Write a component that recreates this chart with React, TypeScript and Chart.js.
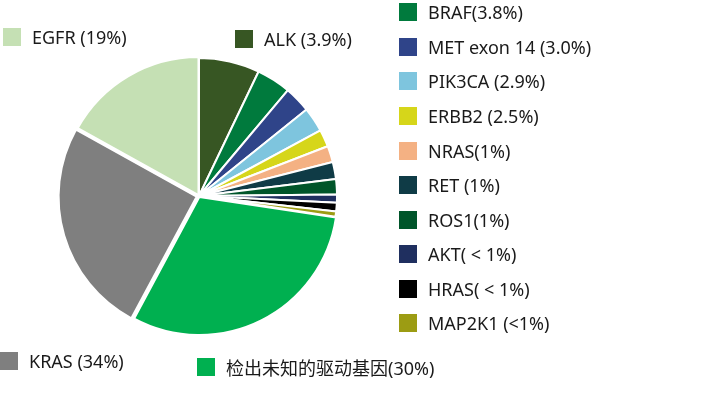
import React, { useEffect, useRef } from "react";
import { Chart, registerables } from "chart.js";

Chart.register(...registerables);

// Slice order (clockwise from 12 o'clock)
const categories = [
  "ALK", "BRAF", "MET exon 14", "PIK3CA", "ERBB2", "NRAS", "RET", "ROS1",
  "AKT", "HRAS", "MAP2K1", "检出未知的驱动基因", "KRAS", "EGFR",
];
// Slice sizes as drawn (percent of circle)
const sliceValues = [7.1, 4.0, 3.1, 2.9, 2.0, 1.9, 2.0, 1.8, 0.95, 1.0, 0.6, 30.4, 25.2, 16.9];
// Legend texts as printed
const legendLabels = [
  "ALK (3.9%)", "BRAF(3.8%)", "MET exon 14 (3.0%)", "PIK3CA (2.9%)", "ERBB2 (2.5%)",
  "NRAS(1%)", "RET (1%)", "ROS1(1%)", "AKT( < 1%)", "HRAS( < 1%)", "MAP2K1 (<1%)",
  "检出未知的驱动基因(30%)", "KRAS (34%)", "EGFR (19%)",
];
const sliceColors = [
  "#375623", "#007A3D", "#2F4489", "#7EC5DE", "#D6D61A", "#F4B183", "#0F3B46",
  "#00552A", "#1F2F5F", "#000000", "#9C9C13", "#00B050", "#7F7F7F", "#C5E0B4",
];
const sliceOffsets = [0, 0, 0, 0, 0, 0, 0, 0, 0, 0, 0, 4, 10, 4];

// Legend square positions (left, top), same order as categories
const legendPos: [number, number][] = [
  [235, 30], [399, 3], [399, 38], [399, 72], [399, 107], [399, 142], [399, 176],
  [399, 211], [399, 245], [399, 280], [399, 314], [197, 358], [0, 352], [3, 28],
];

const FONT = '"Noto Sans", "Noto Sans CJK SC", sans-serif';

export default function App() {
  const canvasRef = useRef<HTMLCanvasElement | null>(null);

  useEffect(() => {
    const ctx = canvasRef.current;
    if (!ctx) return;
    const chart = new Chart(ctx, {
      type: "pie",
      data: {
        labels: categories,
        datasets: [
          {
            data: sliceValues,
            backgroundColor: sliceColors,
            borderColor: "#ffffff",
            borderWidth: 2,
            offset: sliceOffsets,
          },
        ],
      },
      options: {
        responsive: false,
        animation: false,
        layout: { padding: { left: 55, right: 359, top: 52, bottom: 57 } },
        plugins: {
          legend: { display: false },
          tooltip: { enabled: false },
          title: { display: false },
        },
      },
    });
    return () => chart.destroy();
  }, []);

  return (
    <div
      style={{
        position: "absolute",
        left: 0,
        top: 0,
        width: 702,
        height: 397,
        background: "#ffffff",
        overflow: "hidden",
      }}
    >
      <canvas
        ref={canvasRef}
        width={702}
        height={397}
        style={{ position: "absolute", left: 0, top: 0, width: 702, height: 397 }}
      />
      {legendLabels.map((lab, i) => (
        <div
          key={i}
          style={{
            position: "absolute",
            left: legendPos[i][0],
            top: legendPos[i][1] - 6,
            height: 30,
            display: "flex",
            alignItems: "center",
            whiteSpace: "nowrap",
            fontFamily: FONT,
            fontSize: 18,
            color: "#1a1a1a",
          }}
        >
          <span
            style={{
              display: "inline-block",
              width: 18,
              height: 18,
              background: sliceColors[i],
              marginRight: 11,
            }}
          />
          <span>{lab}</span>
        </div>
      ))}
    </div>
  );
}
